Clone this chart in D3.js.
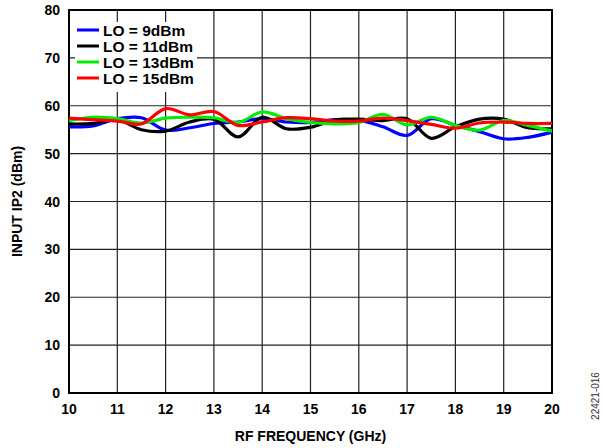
<!DOCTYPE html>
<html>
<head>
<meta charset="utf-8">
<script src="https://cdn.jsdelivr.net/npm/d3@7/dist/d3.min.js"></script>
<style>
  body { margin: 0; background: #fff; }
  svg { display: block; font-family: "Liberation Sans", Arial, sans-serif; }
</style>
</head>
<body>
<div id="chart"></div>
<script>
// RF frequency (GHz) sample points
const freqs = [10, 10.5, 11, 11.5, 12, 12.5, 13, 13.5, 14, 14.5, 15,
               15.5, 16, 16.5, 17, 17.5, 18, 18.5, 19, 19.5, 20];

// Input IP2 (dBm) per LO drive level
const lo9 = [55.6, 55.8, 57.3, 57.5, 54.9, 55.4, 56.3, 56.6, 57.3, 56.6, 56.5,
             57.1, 57.0, 55.6, 53.8, 57.3, 55.9, 54.6, 53.1, 53.4, 54.5];
const lo11 = [56.2, 56.3, 57.1, 55.0, 54.7, 56.6, 57.2, 53.5, 57.6, 55.2, 55.5,
              57.0, 57.2, 56.9, 57.3, 53.2, 55.6, 57.2, 57.2, 55.4, 55.2];
const lo13 = [56.9, 57.6, 57.3, 56.4, 57.4, 57.6, 57.5, 56.5, 58.7, 57.3, 56.5,
              56.2, 56.5, 58.2, 56.0, 57.6, 55.9, 54.9, 56.9, 55.9, 54.7];
const lo15 = [57.4, 57.1, 56.8, 56.2, 59.4, 58.1, 58.8, 55.9, 56.6, 57.5, 57.3,
              56.8, 56.8, 57.4, 56.9, 56.1, 55.3, 56.4, 56.6, 56.3, 56.3];

const seriesNames = ["LO = 9dBm", "LO = 11dBm", "LO = 13dBm", "LO = 15dBm"];
const seriesColors = ["#0000ff", "#000000", "#00ee00", "#ff0000"];
const seriesValues = [lo9, lo11, lo13, lo15];

const xTicks = [10, 11, 12, 13, 14, 15, 16, 17, 18, 19, 20];
const yTicks = [0, 10, 20, 30, 40, 50, 60, 70, 80];

const width = 603, height = 448;
const margin = { top: 10, right: 51, bottom: 55, left: 69 };

const svg = d3.select("#chart").append("svg")
    .attr("width", width)
    .attr("height", height);

const x = d3.scaleLinear().domain([10, 20]).range([margin.left, width - margin.right]);
const y = d3.scaleLinear().domain([0, 80]).range([height - margin.bottom, margin.top]);

// Grid
const grid = svg.append("g").attr("stroke", "#222").attr("stroke-width", 1.2);
grid.selectAll("line.v")
    .data(xTicks)
    .join("line")
    .attr("class", "v")
    .attr("x1", d => x(d)).attr("x2", d => x(d))
    .attr("y1", y(80)).attr("y2", y(0));
grid.selectAll("line.h")
    .data(yTicks)
    .join("line")
    .attr("class", "h")
    .attr("x1", x(10)).attr("x2", x(20))
    .attr("y1", d => y(d)).attr("y2", d => y(d));

// Frame
svg.append("rect")
    .attr("x", x(10)).attr("y", y(80))
    .attr("width", x(20) - x(10)).attr("height", y(0) - y(80))
    .attr("fill", "none").attr("stroke", "#000").attr("stroke-width", 2);

// Tick labels
svg.append("g")
    .selectAll("text")
    .data(yTicks)
    .join("text")
    .attr("x", x(10) - 9)
    .attr("y", d => y(d) + 5)
    .attr("text-anchor", "end")
    .attr("font-size", 14)
    .attr("font-weight", "bold")
    .text(d => d);

svg.append("g")
    .selectAll("text")
    .data(xTicks)
    .join("text")
    .attr("x", d => x(d))
    .attr("y", y(0) + 21)
    .attr("text-anchor", "middle")
    .attr("font-size", 14)
    .attr("font-weight", "bold")
    .text(d => d);

// Axis titles
svg.append("text")
    .attr("x", (x(10) + x(20)) / 2)
    .attr("y", 441)
    .attr("text-anchor", "middle")
    .attr("font-size", 14)
    .attr("font-weight", "bold")
    .text("RF FREQUENCY (GHz)");

svg.append("text")
    .attr("transform", `translate(22,${(y(0) + y(80)) / 2}) rotate(-90)`)
    .attr("text-anchor", "middle")
    .attr("font-size", 14)
    .attr("font-weight", "bold")
    .text("INPUT IP2 (dBm)");

svg.append("text")
    .attr("transform", `translate(599,396) rotate(-90)`)
    .attr("text-anchor", "middle")
    .attr("font-size", 10)
    .attr("fill", "#333")
    .text("22421-016");

// Curves
const line = d3.line()
    .x((d, i) => x(freqs[i]))
    .y(d => y(d))
    .curve(d3.curveCatmullRom.alpha(0.5));

svg.append("g")
    .selectAll("path")
    .data(seriesValues)
    .join("path")
    .attr("d", d => line(d))
    .attr("fill", "none")
    .attr("stroke", (d, i) => seriesColors[i])
    .attr("stroke-width", 3.2);

// Legend (white box covers grid)
const legend = svg.append("g");
legend.append("rect")
    .attr("x", 75).attr("y", 22)
    .attr("width", 122).attr("height", 70)
    .attr("fill", "#fff");

const rows = legend.selectAll("g.row")
    .data(seriesNames)
    .join("g")
    .attr("class", "row")
    .attr("transform", (d, i) => `translate(0,${30 + i * 16})`);

rows.append("line")
    .attr("x1", 77).attr("x2", 99)
    .attr("y1", 0).attr("y2", 0)
    .attr("stroke", (d, i) => seriesColors[i])
    .attr("stroke-width", 3);

rows.append("text")
    .attr("x", 103)
    .attr("y", 5.5)
    .attr("font-size", 15.5)
    .attr("font-weight", "bold")
    .text(d => d);
</script>
</body>
</html>
